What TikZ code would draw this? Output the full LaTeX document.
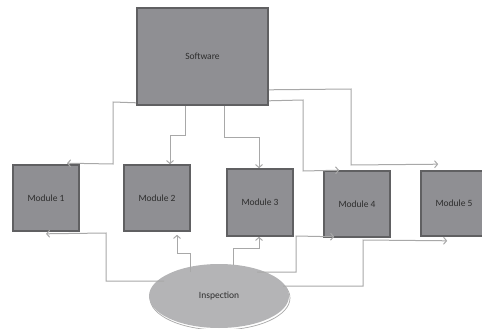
\documentclass[tikz,border=0pt]{standalone}
\usepackage{fontspec}
\setmainfont{Carlito}
\usetikzlibrary{arrows.meta,shadows,shapes.geometric}
\definecolor{boxfill}{HTML}{8F8F93}
\definecolor{boxline}{HTML}{606062}
\definecolor{conn}{HTML}{A8A8A8}
\definecolor{ellfill}{HTML}{B4B4B6}
\definecolor{txt}{HTML}{2E2E2E}
\begin{document}
\begin{tikzpicture}[x=1pt,y=-1pt,
  modbox/.style={draw=boxline, line width=1.6pt, fill=boxfill, minimum width=66pt, minimum height=66pt, inner sep=0pt, text=txt, font=\fontsize{9.5}{11}\selectfont},
  swbox/.style={modbox, minimum width=131pt, minimum height=97pt},
  insp/.style={ellipse, fill=ellfill, minimum width=140pt, minimum height=64pt, inner sep=0pt, text=txt, font=\fontsize{9.5}{11}\selectfont,
     general shadow={fill=white, draw=conn, line width=0.7pt, shadow xshift=1pt, shadow yshift=-2pt}},
  link/.style={draw=conn, line width=1pt, -{Straight Barb[length=3pt,width=7pt]}}
]
\useasboundingbox (0,0) rectangle (482,329);
\clip (0,0) rectangle (482,329);
\node[swbox] (sw) at (202.5,56.5) {Software};
\node[modbox] (m1) at (46,198) {Module 1};
\node[modbox] (m2) at (157,198) {Module 2};
\node[modbox, minimum height=67pt] (m3) at (260,202.5) {Module 3};
\node[modbox] (m4) at (357,204) {Module 4};
\node[modbox, minimum width=66pt, minimum height=65pt] (m5) at (454,203.5) {Module 5};
\node[insp] (ins) at (219,296) {Inspection};
% from Software
\draw[link] ([yshift=3pt]sw.south west) -- (113,102) -- (113,164) -- ([xshift=21pt,yshift=1pt]m1.north);
\draw[link] ([xshift=-17.5pt]sw.south) -- (185,135) -- (170,135) -- ([xshift=13pt]m2.north);
\draw[link] ([xshift=21.5pt]sw.south) -- (224,137) -- (259,137) -- ([xshift=-1pt]m3.north);
\draw[link] ([yshift=5pt]sw.south east) -- (303,100) -- (303,171) -- ([xshift=16pt]m4.north west);
\draw[link] ([yshift=16pt]sw.south east) -- (351,89) -- (351,165) -- ([xshift=18pt,yshift=6pt]m5.north west);
% from Inspection
\draw[link] ([xshift=-55pt,yshift=15pt]ins.center) -- (106,281) -- (106,233) -- ([yshift=-2pt]m1.south);
\draw[link] ([xshift=-29pt,yshift=24pt]ins.center) -- (190,253) -- (177,253) -- ([xshift=20pt,yshift=-3pt]m2.south);
\draw[link] ([xshift=14pt,yshift=31pt]ins.center) -- (233,248) -- (259,248) -- ([xshift=-1pt]m3.south);
\draw[link] ([xshift=38pt,yshift=24pt]ins.center) -- (296,272) -- (296,236) -- ([xshift=11pt,yshift=1pt]m4.south west);
\draw[link] ([xshift=64pt,yshift=10pt]ins.center) -- (363,286) -- (363,240) -- ([xshift=27pt,yshift=-4pt]m5.south west);
\end{tikzpicture}
\end{document}
